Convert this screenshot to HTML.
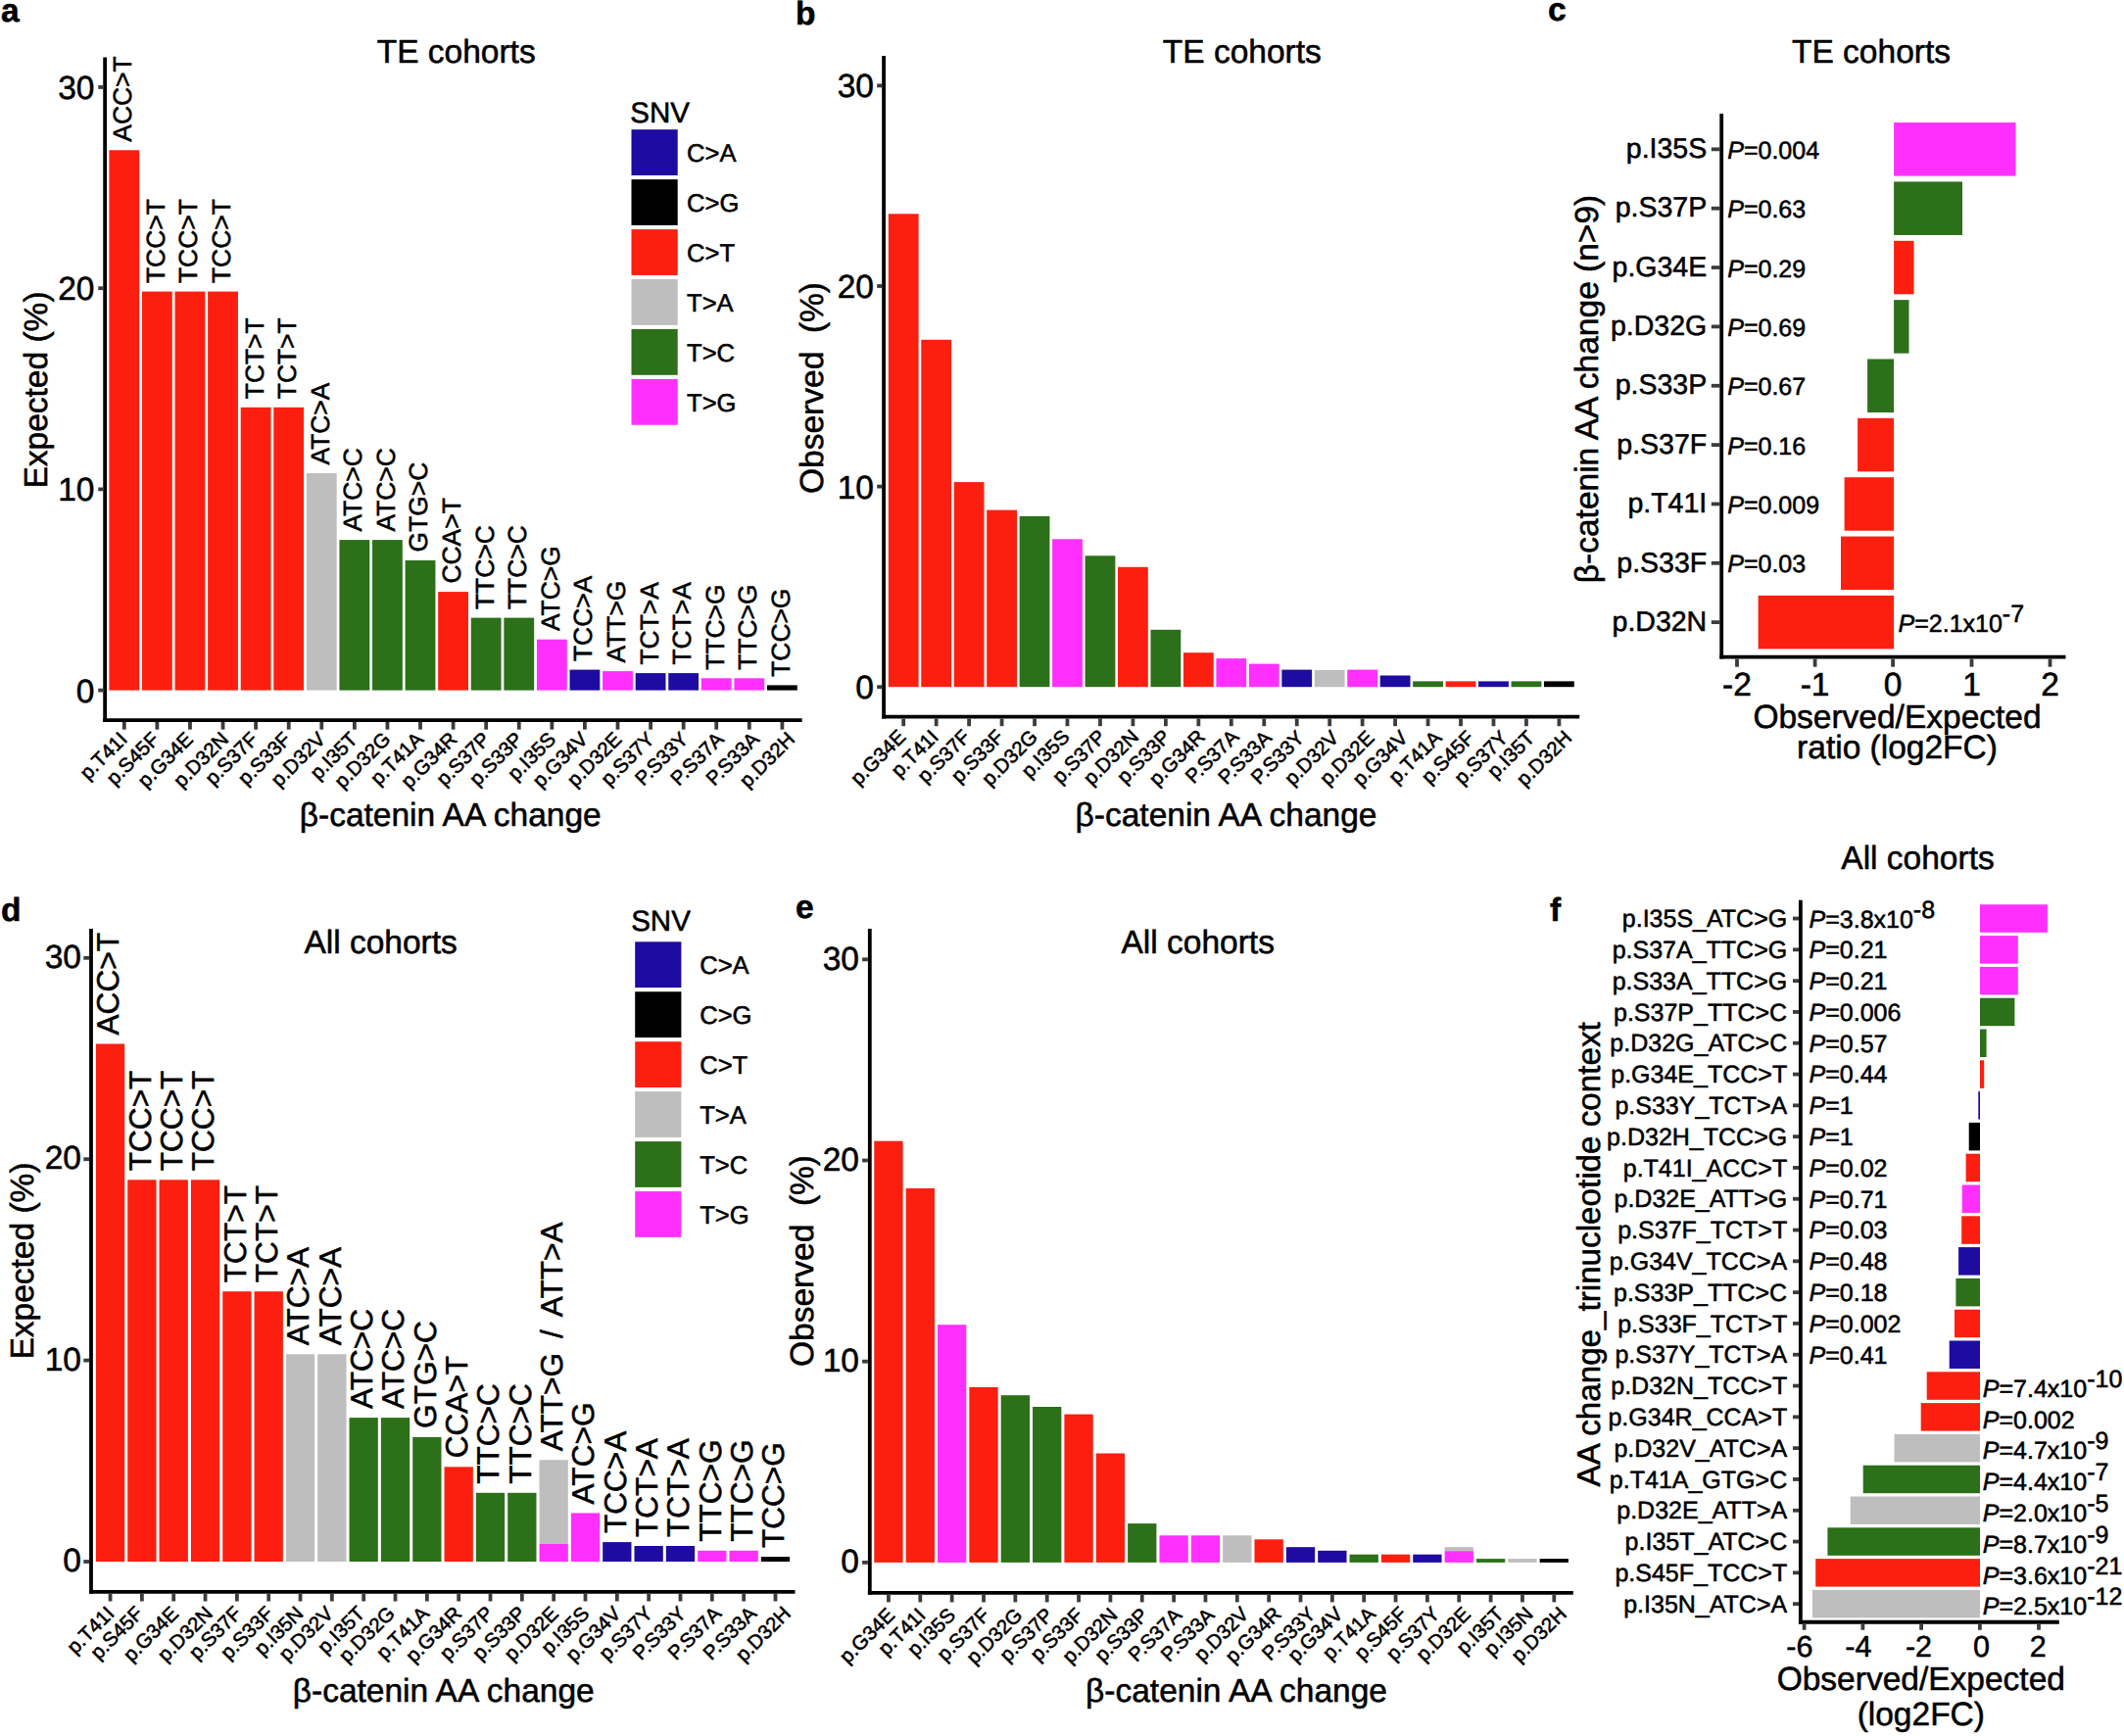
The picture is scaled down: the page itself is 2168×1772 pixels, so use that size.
<!DOCTYPE html>
<html lang="en">
<head>
<meta charset="utf-8">
<title>CTNNB1 mutation spectrum: expected vs observed</title>
<style>
html,body{margin:0;padding:0;background:#fff;}
body{width:2168px;height:1772px;overflow:hidden;}
svg{display:block;}
svg text{font-family:"Liberation Sans",Arial,Helvetica,sans-serif;fill:#000;stroke:#000;stroke-width:0.55px;stroke-linejoin:round;}
</style>
</head>
<body>
<svg width="2168" height="1772" viewBox="0 0 2168 1772" text-rendering="geometricPrecision">
<rect x="0" y="0" width="2168" height="1772" fill="#ffffff"/>
<rect x="111.4" y="153.3" width="30.8" height="551.3" fill="#FC1F10"/>
<rect x="144.98" y="297.6" width="30.8" height="407" fill="#FC1F10"/>
<rect x="178.56" y="297.6" width="30.8" height="407" fill="#FC1F10"/>
<rect x="212.14" y="297.6" width="30.8" height="407" fill="#FC1F10"/>
<rect x="245.72" y="415.8" width="30.8" height="288.8" fill="#FC1F10"/>
<rect x="279.3" y="415.8" width="30.8" height="288.8" fill="#FC1F10"/>
<rect x="312.88" y="483.05" width="30.8" height="221.55" fill="#BEBEBE"/>
<rect x="346.46" y="551.1" width="30.8" height="153.5" fill="#2C7019"/>
<rect x="380.04" y="551.1" width="30.8" height="153.5" fill="#2C7019"/>
<rect x="413.62" y="572" width="30.8" height="132.6" fill="#2C7019"/>
<rect x="447.2" y="604.1" width="30.8" height="100.5" fill="#FC1F10"/>
<rect x="480.78" y="630.6" width="30.8" height="74" fill="#2C7019"/>
<rect x="514.36" y="630.6" width="30.8" height="74" fill="#2C7019"/>
<rect x="547.94" y="652.7" width="30.8" height="51.9" fill="#FF30FF"/>
<rect x="581.52" y="683.6" width="30.8" height="21" fill="#1E0BA2"/>
<rect x="615.1" y="685.1" width="30.8" height="19.5" fill="#FF30FF"/>
<rect x="648.68" y="687.1" width="30.8" height="17.5" fill="#1E0BA2"/>
<rect x="682.26" y="687.1" width="30.8" height="17.5" fill="#1E0BA2"/>
<rect x="715.84" y="692.3" width="30.8" height="12.3" fill="#FF30FF"/>
<rect x="749.42" y="692.3" width="30.8" height="12.3" fill="#FF30FF"/>
<rect x="783" y="699.4" width="30.8" height="5.2" fill="#000000"/>
<line x1="107.14" y1="58.6" x2="107.14" y2="736.95" stroke="#000000" stroke-width="3.8"/>
<line x1="105.24" y1="735.05" x2="818.7" y2="735.05" stroke="#000000" stroke-width="3.8"/>
<line x1="100.24" y1="704.6" x2="105.24" y2="704.6" stroke="#3c3c3c" stroke-width="3.8"/>
<text x="96.5" y="716.59" text-anchor="end" font-size="33.5">0</text>
<line x1="100.24" y1="499.4" x2="105.24" y2="499.4" stroke="#3c3c3c" stroke-width="3.8"/>
<text x="96.5" y="511.39" text-anchor="end" font-size="33.5">10</text>
<line x1="100.24" y1="294.2" x2="105.24" y2="294.2" stroke="#3c3c3c" stroke-width="3.8"/>
<text x="96.5" y="306.19" text-anchor="end" font-size="33.5">20</text>
<line x1="100.24" y1="89" x2="105.24" y2="89" stroke="#3c3c3c" stroke-width="3.8"/>
<text x="96.5" y="100.99" text-anchor="end" font-size="33.5">30</text>
<line x1="126.8" y1="736.95" x2="126.8" y2="744.65" stroke="#3c3c3c" stroke-width="3.8"/>
<text text-anchor="end" transform="translate(131.1 755.8) rotate(-45)" font-size="20.5">p.T41I</text>
<line x1="160.38" y1="736.95" x2="160.38" y2="744.65" stroke="#3c3c3c" stroke-width="3.8"/>
<text text-anchor="end" transform="translate(163.78 755.8) rotate(-45)" font-size="20.5">p.S45F</text>
<line x1="193.96" y1="736.95" x2="193.96" y2="744.65" stroke="#3c3c3c" stroke-width="3.8"/>
<text text-anchor="end" transform="translate(198.26 755.8) rotate(-45)" font-size="20.5">p.G34E</text>
<line x1="227.54" y1="736.95" x2="227.54" y2="744.65" stroke="#3c3c3c" stroke-width="3.8"/>
<text text-anchor="end" transform="translate(234.54 755.8) rotate(-45)" font-size="20.5">p.D32N</text>
<line x1="261.12" y1="736.95" x2="261.12" y2="744.65" stroke="#3c3c3c" stroke-width="3.8"/>
<text text-anchor="end" transform="translate(264.52 755.8) rotate(-45)" font-size="20.5">p.S37F</text>
<line x1="294.7" y1="736.95" x2="294.7" y2="744.65" stroke="#3c3c3c" stroke-width="3.8"/>
<text text-anchor="end" transform="translate(298.1 755.8) rotate(-45)" font-size="20.5">p.S33F</text>
<line x1="328.28" y1="736.95" x2="328.28" y2="744.65" stroke="#3c3c3c" stroke-width="3.8"/>
<text text-anchor="end" transform="translate(333.48 755.8) rotate(-45)" font-size="20.5">p.D32V</text>
<line x1="361.86" y1="736.95" x2="361.86" y2="744.65" stroke="#3c3c3c" stroke-width="3.8"/>
<text text-anchor="end" transform="translate(366.16 755.8) rotate(-45)" font-size="20.5">p.I35T</text>
<line x1="395.44" y1="736.95" x2="395.44" y2="744.65" stroke="#3c3c3c" stroke-width="3.8"/>
<text text-anchor="end" transform="translate(399.74 755.8) rotate(-45)" font-size="20.5">p.D32G</text>
<line x1="429.02" y1="736.95" x2="429.02" y2="744.65" stroke="#3c3c3c" stroke-width="3.8"/>
<text text-anchor="end" transform="translate(433.32 755.8) rotate(-45)" font-size="20.5">p.T41A</text>
<line x1="462.6" y1="736.95" x2="462.6" y2="744.65" stroke="#3c3c3c" stroke-width="3.8"/>
<text text-anchor="end" transform="translate(467.8 755.8) rotate(-45)" font-size="20.5">p.G34R</text>
<line x1="496.18" y1="736.95" x2="496.18" y2="744.65" stroke="#3c3c3c" stroke-width="3.8"/>
<text text-anchor="end" transform="translate(501.38 755.8) rotate(-45)" font-size="20.5">p.S37P</text>
<line x1="529.76" y1="736.95" x2="529.76" y2="744.65" stroke="#3c3c3c" stroke-width="3.8"/>
<text text-anchor="end" transform="translate(534.96 755.8) rotate(-45)" font-size="20.5">p.S33P</text>
<line x1="563.34" y1="736.95" x2="563.34" y2="744.65" stroke="#3c3c3c" stroke-width="3.8"/>
<text text-anchor="end" transform="translate(568.54 755.8) rotate(-45)" font-size="20.5">p.I35S</text>
<line x1="596.92" y1="736.95" x2="596.92" y2="744.65" stroke="#3c3c3c" stroke-width="3.8"/>
<text text-anchor="end" transform="translate(601.22 755.8) rotate(-45)" font-size="20.5">p.G34V</text>
<line x1="630.5" y1="736.95" x2="630.5" y2="744.65" stroke="#3c3c3c" stroke-width="3.8"/>
<text text-anchor="end" transform="translate(635.7 755.8) rotate(-45)" font-size="20.5">p.D32E</text>
<line x1="664.08" y1="736.95" x2="664.08" y2="744.65" stroke="#3c3c3c" stroke-width="3.8"/>
<text text-anchor="end" transform="translate(669.28 755.8) rotate(-45)" font-size="20.5">p.S37Y</text>
<line x1="697.66" y1="736.95" x2="697.66" y2="744.65" stroke="#3c3c3c" stroke-width="3.8"/>
<text text-anchor="end" transform="translate(703.76 755.8) rotate(-45)" font-size="20.5">P.S33Y</text>
<line x1="731.24" y1="736.95" x2="731.24" y2="744.65" stroke="#3c3c3c" stroke-width="3.8"/>
<text text-anchor="end" transform="translate(740.04 755.8) rotate(-45)" font-size="20.5">P.S37A</text>
<line x1="764.82" y1="736.95" x2="764.82" y2="744.65" stroke="#3c3c3c" stroke-width="3.8"/>
<text text-anchor="end" transform="translate(776.22 755.8) rotate(-45)" font-size="20.5">P.S33A</text>
<line x1="798.4" y1="736.95" x2="798.4" y2="744.65" stroke="#3c3c3c" stroke-width="3.8"/>
<text text-anchor="end" transform="translate(812.5 755.8) rotate(-45)" font-size="20.5">p.D32H</text>
<text transform="translate(134.25 144.7) rotate(-90)" font-size="26.4">ACC&gt;T</text>
<text transform="translate(167.83 289) rotate(-90)" font-size="26.4">TCC&gt;T</text>
<text transform="translate(201.41 289) rotate(-90)" font-size="26.4">TCC&gt;T</text>
<text transform="translate(234.99 289) rotate(-90)" font-size="26.4">TCC&gt;T</text>
<text transform="translate(268.57 407.2) rotate(-90)" font-size="26.4">TCT&gt;T</text>
<text transform="translate(302.15 407.2) rotate(-90)" font-size="26.4">TCT&gt;T</text>
<text transform="translate(335.73 474.45) rotate(-90)" font-size="26.4">ATC&gt;A</text>
<text transform="translate(369.31 542.5) rotate(-90)" font-size="26.4">ATC&gt;C</text>
<text transform="translate(402.89 542.5) rotate(-90)" font-size="26.4">ATC&gt;C</text>
<text transform="translate(436.47 563.4) rotate(-90)" font-size="26.4">GTG&gt;C</text>
<text transform="translate(470.05 595.5) rotate(-90)" font-size="26.4">CCA&gt;T</text>
<text transform="translate(503.63 622) rotate(-90)" font-size="26.4">TTC&gt;C</text>
<text transform="translate(537.21 622) rotate(-90)" font-size="26.4">TTC&gt;C</text>
<text transform="translate(570.79 644.1) rotate(-90)" font-size="26.4">ATC&gt;G</text>
<text transform="translate(604.37 675) rotate(-90)" font-size="26.4">TCC&gt;A</text>
<text transform="translate(637.95 676.5) rotate(-90)" font-size="26.4">ATT&gt;G</text>
<text transform="translate(671.53 678.5) rotate(-90)" font-size="26.4">TCT&gt;A</text>
<text transform="translate(705.11 678.5) rotate(-90)" font-size="26.4">TCT&gt;A</text>
<text transform="translate(738.69 683.7) rotate(-90)" font-size="26.4">TTC&gt;G</text>
<text transform="translate(772.27 683.7) rotate(-90)" font-size="26.4">TTC&gt;G</text>
<text transform="translate(805.85 690.8) rotate(-90)" font-size="26.4">TCC&gt;G</text>
<text x="465.7" y="64.1" text-anchor="middle" font-size="33.5">TE cohorts</text>
<text x="459.7" y="842.6" text-anchor="middle" font-size="33.5">β-catenin AA change</text>
<text text-anchor="middle" transform="translate(47.5 398) rotate(-90)" font-size="33.5" style="white-space:pre">Expected (%)</text>
<text x="1" y="22.1" font-weight="bold" font-size="33.5">a</text>
<text x="643.3" y="124.6" font-size="29.5">SNV</text>
<rect x="644.5" y="132.2" width="47.2" height="46.8" fill="#1E0BA2"/>
<text x="701" y="164.8" font-size="25.6">C&gt;A</text>
<rect x="644.5" y="183.15" width="47.2" height="46.8" fill="#000000"/>
<text x="701" y="215.75" font-size="25.6">C&gt;G</text>
<rect x="644.5" y="234.1" width="47.2" height="46.8" fill="#FC1F10"/>
<text x="701" y="266.7" font-size="25.6">C&gt;T</text>
<rect x="644.5" y="285.05" width="47.2" height="46.8" fill="#BEBEBE"/>
<text x="701" y="317.65" font-size="25.6">T&gt;A</text>
<rect x="644.5" y="336" width="47.2" height="46.8" fill="#2C7019"/>
<text x="701" y="368.6" font-size="25.6">T&gt;C</text>
<rect x="644.5" y="386.95" width="47.2" height="46.8" fill="#FF30FF"/>
<text x="701" y="419.55" font-size="25.6">T&gt;G</text>
<rect x="906.8" y="218.3" width="30.8" height="482.9" fill="#FC1F10"/>
<rect x="940.26" y="346.8" width="30.8" height="354.4" fill="#FC1F10"/>
<rect x="973.72" y="492.1" width="30.8" height="209.1" fill="#FC1F10"/>
<rect x="1007.18" y="520.6" width="30.8" height="180.6" fill="#FC1F10"/>
<rect x="1040.64" y="526.9" width="30.8" height="174.3" fill="#2C7019"/>
<rect x="1074.1" y="550.3" width="30.8" height="150.9" fill="#FF30FF"/>
<rect x="1107.56" y="567.3" width="30.8" height="133.9" fill="#2C7019"/>
<rect x="1141.02" y="578.8" width="30.8" height="122.4" fill="#FC1F10"/>
<rect x="1174.48" y="642.8" width="30.8" height="58.4" fill="#2C7019"/>
<rect x="1207.94" y="666.2" width="30.8" height="35" fill="#FC1F10"/>
<rect x="1241.4" y="672.1" width="30.8" height="29.1" fill="#FF30FF"/>
<rect x="1274.86" y="677.6" width="30.8" height="23.6" fill="#FF30FF"/>
<rect x="1308.32" y="683.6" width="30.8" height="17.6" fill="#1E0BA2"/>
<rect x="1341.78" y="684" width="30.8" height="17.2" fill="#BEBEBE"/>
<rect x="1375.24" y="683.6" width="30.8" height="17.6" fill="#FF30FF"/>
<rect x="1408.7" y="689.5" width="30.8" height="11.7" fill="#1E0BA2"/>
<rect x="1442.16" y="695.4" width="30.8" height="5.8" fill="#2C7019"/>
<rect x="1475.62" y="695.4" width="30.8" height="5.8" fill="#FC1F10"/>
<rect x="1509.08" y="695.4" width="30.8" height="5.8" fill="#1E0BA2"/>
<rect x="1542.54" y="695.4" width="30.8" height="5.8" fill="#2C7019"/>
<rect x="1576" y="695.4" width="30.8" height="5.8" fill="#000000"/>
<line x1="902.07" y1="57" x2="902.07" y2="733.5" stroke="#000000" stroke-width="3.8"/>
<line x1="900.17" y1="731.6" x2="1612.2" y2="731.6" stroke="#000000" stroke-width="3.8"/>
<line x1="895.17" y1="701.2" x2="900.17" y2="701.2" stroke="#3c3c3c" stroke-width="3.8"/>
<text x="892" y="713.19" text-anchor="end" font-size="33.5">0</text>
<line x1="895.17" y1="496.6" x2="900.17" y2="496.6" stroke="#3c3c3c" stroke-width="3.8"/>
<text x="892" y="508.59" text-anchor="end" font-size="33.5">10</text>
<line x1="895.17" y1="292" x2="900.17" y2="292" stroke="#3c3c3c" stroke-width="3.8"/>
<text x="892" y="303.99" text-anchor="end" font-size="33.5">20</text>
<line x1="895.17" y1="87.4" x2="900.17" y2="87.4" stroke="#3c3c3c" stroke-width="3.8"/>
<text x="892" y="99.39" text-anchor="end" font-size="33.5">30</text>
<line x1="922.2" y1="733.5" x2="922.2" y2="741.2" stroke="#3c3c3c" stroke-width="3.8"/>
<text text-anchor="end" transform="translate(925.6 753.4) rotate(-45)" font-size="20.5">p.G34E</text>
<line x1="955.66" y1="733.5" x2="955.66" y2="741.2" stroke="#3c3c3c" stroke-width="3.8"/>
<text text-anchor="end" transform="translate(959.06 753.4) rotate(-45)" font-size="20.5">p.T41I</text>
<line x1="989.12" y1="733.5" x2="989.12" y2="741.2" stroke="#3c3c3c" stroke-width="3.8"/>
<text text-anchor="end" transform="translate(991.62 753.4) rotate(-45)" font-size="20.5">p.S37F</text>
<line x1="1022.58" y1="733.5" x2="1022.58" y2="741.2" stroke="#3c3c3c" stroke-width="3.8"/>
<text text-anchor="end" transform="translate(1025.98 753.4) rotate(-45)" font-size="20.5">p.S33F</text>
<line x1="1056.04" y1="733.5" x2="1056.04" y2="741.2" stroke="#3c3c3c" stroke-width="3.8"/>
<text text-anchor="end" transform="translate(1060.34 753.4) rotate(-45)" font-size="20.5">p.D32G</text>
<line x1="1089.5" y1="733.5" x2="1089.5" y2="741.2" stroke="#3c3c3c" stroke-width="3.8"/>
<text text-anchor="end" transform="translate(1092.9 753.4) rotate(-45)" font-size="20.5">p.I35S</text>
<line x1="1122.96" y1="733.5" x2="1122.96" y2="741.2" stroke="#3c3c3c" stroke-width="3.8"/>
<text text-anchor="end" transform="translate(1129.96 753.4) rotate(-45)" font-size="20.5">p.S37P</text>
<line x1="1156.42" y1="733.5" x2="1156.42" y2="741.2" stroke="#3c3c3c" stroke-width="3.8"/>
<text text-anchor="end" transform="translate(1163.42 753.4) rotate(-45)" font-size="20.5">p.D32N</text>
<line x1="1189.88" y1="733.5" x2="1189.88" y2="741.2" stroke="#3c3c3c" stroke-width="3.8"/>
<text text-anchor="end" transform="translate(1195.98 753.4) rotate(-45)" font-size="20.5">p.S33P</text>
<line x1="1223.34" y1="733.5" x2="1223.34" y2="741.2" stroke="#3c3c3c" stroke-width="3.8"/>
<text text-anchor="end" transform="translate(1231.24 753.4) rotate(-45)" font-size="20.5">p.G34R</text>
<line x1="1256.8" y1="733.5" x2="1256.8" y2="741.2" stroke="#3c3c3c" stroke-width="3.8"/>
<text text-anchor="end" transform="translate(1265.6 753.4) rotate(-45)" font-size="20.5">P.S37A</text>
<line x1="1290.26" y1="733.5" x2="1290.26" y2="741.2" stroke="#3c3c3c" stroke-width="3.8"/>
<text text-anchor="end" transform="translate(1299.06 754.4) rotate(-45)" font-size="20.5">P.S33A</text>
<line x1="1323.72" y1="733.5" x2="1323.72" y2="741.2" stroke="#3c3c3c" stroke-width="3.8"/>
<text text-anchor="end" transform="translate(1332.52 754.4) rotate(-45)" font-size="20.5">P.S33Y</text>
<line x1="1357.18" y1="733.5" x2="1357.18" y2="741.2" stroke="#3c3c3c" stroke-width="3.8"/>
<text text-anchor="end" transform="translate(1367.78 754.4) rotate(-45)" font-size="20.5">p.D32V</text>
<line x1="1390.64" y1="733.5" x2="1390.64" y2="741.2" stroke="#3c3c3c" stroke-width="3.8"/>
<text text-anchor="end" transform="translate(1403.84 754.4) rotate(-45)" font-size="20.5">p.D32E</text>
<line x1="1424.1" y1="733.5" x2="1424.1" y2="741.2" stroke="#3c3c3c" stroke-width="3.8"/>
<text text-anchor="end" transform="translate(1438.2 754.4) rotate(-45)" font-size="20.5">p.G34V</text>
<line x1="1457.56" y1="733.5" x2="1457.56" y2="741.2" stroke="#3c3c3c" stroke-width="3.8"/>
<text text-anchor="end" transform="translate(1472.56 754.4) rotate(-45)" font-size="20.5">p.T41A</text>
<line x1="1491.02" y1="733.5" x2="1491.02" y2="741.2" stroke="#3c3c3c" stroke-width="3.8"/>
<text text-anchor="end" transform="translate(1506.02 754.4) rotate(-45)" font-size="20.5">p.S45F</text>
<line x1="1524.48" y1="733.5" x2="1524.48" y2="741.2" stroke="#3c3c3c" stroke-width="3.8"/>
<text text-anchor="end" transform="translate(1540.38 754.4) rotate(-45)" font-size="20.5">p.S37Y</text>
<line x1="1557.94" y1="733.5" x2="1557.94" y2="741.2" stroke="#3c3c3c" stroke-width="3.8"/>
<text text-anchor="end" transform="translate(1567.64 754.4) rotate(-45)" font-size="20.5">p.I35T</text>
<line x1="1591.4" y1="733.5" x2="1591.4" y2="741.2" stroke="#3c3c3c" stroke-width="3.8"/>
<text text-anchor="end" transform="translate(1605.5 754.4) rotate(-45)" font-size="20.5">p.D32H</text>
<text x="1267.8" y="64.1" text-anchor="middle" font-size="33.5">TE cohorts</text>
<text x="1251.5" y="842.6" text-anchor="middle" font-size="33.5">β-catenin AA change</text>
<text text-anchor="middle" transform="translate(840 396) rotate(-90)" font-size="33.5" style="white-space:pre">Observed  (%)</text>
<text x="812" y="24.5" font-weight="bold" font-size="33.5">b</text>
<rect x="97.9" y="1065.5" width="29.3" height="528.5" fill="#FC1F10"/>
<rect x="130.23" y="1204.3" width="29.3" height="389.7" fill="#FC1F10"/>
<rect x="162.56" y="1204.3" width="29.3" height="389.7" fill="#FC1F10"/>
<rect x="194.89" y="1204.3" width="29.3" height="389.7" fill="#FC1F10"/>
<rect x="227.22" y="1318.2" width="29.3" height="275.8" fill="#FC1F10"/>
<rect x="259.55" y="1318.2" width="29.3" height="275.8" fill="#FC1F10"/>
<rect x="291.88" y="1382.3" width="29.3" height="211.7" fill="#BEBEBE"/>
<rect x="324.21" y="1382.3" width="29.3" height="211.7" fill="#BEBEBE"/>
<rect x="356.54" y="1447.1" width="29.3" height="146.9" fill="#2C7019"/>
<rect x="388.87" y="1447.1" width="29.3" height="146.9" fill="#2C7019"/>
<rect x="421.2" y="1466.9" width="29.3" height="127.1" fill="#2C7019"/>
<rect x="453.53" y="1497.3" width="29.3" height="96.7" fill="#FC1F10"/>
<rect x="485.86" y="1523.8" width="29.3" height="70.2" fill="#2C7019"/>
<rect x="518.19" y="1523.8" width="29.3" height="70.2" fill="#2C7019"/>
<rect x="550.52" y="1490.2" width="29.3" height="85.8" fill="#BEBEBE"/>
<rect x="550.52" y="1576" width="29.3" height="18" fill="#FF30FF"/>
<rect x="582.85" y="1544.4" width="29.3" height="49.6" fill="#FF30FF"/>
<rect x="615.18" y="1574.1" width="29.3" height="19.9" fill="#1E0BA2"/>
<rect x="647.51" y="1578" width="29.3" height="16" fill="#1E0BA2"/>
<rect x="679.84" y="1578" width="29.3" height="16" fill="#1E0BA2"/>
<rect x="712.17" y="1582.8" width="29.3" height="11.2" fill="#FF30FF"/>
<rect x="744.5" y="1582.8" width="29.3" height="11.2" fill="#FF30FF"/>
<rect x="776.83" y="1589.1" width="29.3" height="4.9" fill="#000000"/>
<line x1="93" y1="948" x2="93" y2="1626.8" stroke="#000000" stroke-width="3.8"/>
<line x1="91.1" y1="1624.9" x2="811.5" y2="1624.9" stroke="#000000" stroke-width="3.8"/>
<line x1="85.3" y1="1594" x2="91.1" y2="1594" stroke="#3c3c3c" stroke-width="3.8"/>
<text x="83" y="1604.09" text-anchor="end" font-size="33.5">0</text>
<line x1="85.3" y1="1388.6" x2="91.1" y2="1388.6" stroke="#3c3c3c" stroke-width="3.8"/>
<text x="83" y="1398.69" text-anchor="end" font-size="33.5">10</text>
<line x1="85.3" y1="1183.2" x2="91.1" y2="1183.2" stroke="#3c3c3c" stroke-width="3.8"/>
<text x="83" y="1193.29" text-anchor="end" font-size="33.5">20</text>
<line x1="85.3" y1="977.8" x2="91.1" y2="977.8" stroke="#3c3c3c" stroke-width="3.8"/>
<text x="83" y="987.89" text-anchor="end" font-size="33.5">30</text>
<line x1="112.55" y1="1626.8" x2="112.55" y2="1634.5" stroke="#3c3c3c" stroke-width="3.8"/>
<text text-anchor="end" transform="translate(117.75 1648.2) rotate(-45)" font-size="20.5">p.T41I</text>
<line x1="144.88" y1="1626.8" x2="144.88" y2="1634.5" stroke="#3c3c3c" stroke-width="3.8"/>
<text text-anchor="end" transform="translate(147.38 1648.2) rotate(-45)" font-size="20.5">p.S45F</text>
<line x1="177.21" y1="1626.8" x2="177.21" y2="1634.5" stroke="#3c3c3c" stroke-width="3.8"/>
<text text-anchor="end" transform="translate(183.31 1648.2) rotate(-45)" font-size="20.5">p.G34E</text>
<line x1="209.54" y1="1626.8" x2="209.54" y2="1634.5" stroke="#3c3c3c" stroke-width="3.8"/>
<text text-anchor="end" transform="translate(218.34 1648.2) rotate(-45)" font-size="20.5">p.D32N</text>
<line x1="241.87" y1="1626.8" x2="241.87" y2="1634.5" stroke="#3c3c3c" stroke-width="3.8"/>
<text text-anchor="end" transform="translate(247.97 1648.2) rotate(-45)" font-size="20.5">p.S37F</text>
<line x1="274.2" y1="1626.8" x2="274.2" y2="1634.5" stroke="#3c3c3c" stroke-width="3.8"/>
<text text-anchor="end" transform="translate(280.3 1648.2) rotate(-45)" font-size="20.5">p.S33F</text>
<line x1="306.53" y1="1626.8" x2="306.53" y2="1634.5" stroke="#3c3c3c" stroke-width="3.8"/>
<text text-anchor="end" transform="translate(310.83 1648.2) rotate(-45)" font-size="20.5">p.I35N</text>
<line x1="338.86" y1="1626.8" x2="338.86" y2="1634.5" stroke="#3c3c3c" stroke-width="3.8"/>
<text text-anchor="end" transform="translate(341.36 1648.2) rotate(-45)" font-size="20.5">p.D32V</text>
<line x1="371.19" y1="1626.8" x2="371.19" y2="1634.5" stroke="#3c3c3c" stroke-width="3.8"/>
<text text-anchor="end" transform="translate(373.69 1648.2) rotate(-45)" font-size="20.5">p.I35T</text>
<line x1="403.52" y1="1626.8" x2="403.52" y2="1634.5" stroke="#3c3c3c" stroke-width="3.8"/>
<text text-anchor="end" transform="translate(404.22 1648.2) rotate(-45)" font-size="20.5">p.D32G</text>
<line x1="435.85" y1="1626.8" x2="435.85" y2="1634.5" stroke="#3c3c3c" stroke-width="3.8"/>
<text text-anchor="end" transform="translate(439.25 1648.2) rotate(-45)" font-size="20.5">p.T41A</text>
<line x1="468.18" y1="1626.8" x2="468.18" y2="1634.5" stroke="#3c3c3c" stroke-width="3.8"/>
<text text-anchor="end" transform="translate(472.48 1648.2) rotate(-45)" font-size="20.5">p.G34R</text>
<line x1="500.51" y1="1626.8" x2="500.51" y2="1634.5" stroke="#3c3c3c" stroke-width="3.8"/>
<text text-anchor="end" transform="translate(504.81 1648.2) rotate(-45)" font-size="20.5">p.S37P</text>
<line x1="532.84" y1="1626.8" x2="532.84" y2="1634.5" stroke="#3c3c3c" stroke-width="3.8"/>
<text text-anchor="end" transform="translate(538.04 1648.2) rotate(-45)" font-size="20.5">p.S33P</text>
<line x1="565.17" y1="1626.8" x2="565.17" y2="1634.5" stroke="#3c3c3c" stroke-width="3.8"/>
<text text-anchor="end" transform="translate(571.27 1648.2) rotate(-45)" font-size="20.5">p.D32E</text>
<line x1="597.5" y1="1626.8" x2="597.5" y2="1634.5" stroke="#3c3c3c" stroke-width="3.8"/>
<text text-anchor="end" transform="translate(602.7 1648.2) rotate(-45)" font-size="20.5">p.I35S</text>
<line x1="629.83" y1="1626.8" x2="629.83" y2="1634.5" stroke="#3c3c3c" stroke-width="3.8"/>
<text text-anchor="end" transform="translate(635.03 1648.2) rotate(-45)" font-size="20.5">p.G34V</text>
<line x1="662.16" y1="1626.8" x2="662.16" y2="1634.5" stroke="#3c3c3c" stroke-width="3.8"/>
<text text-anchor="end" transform="translate(667.36 1648.2) rotate(-45)" font-size="20.5">p.S37Y</text>
<line x1="694.49" y1="1626.8" x2="694.49" y2="1634.5" stroke="#3c3c3c" stroke-width="3.8"/>
<text text-anchor="end" transform="translate(701.49 1648.2) rotate(-45)" font-size="20.5">P.S33Y</text>
<line x1="726.82" y1="1626.8" x2="726.82" y2="1634.5" stroke="#3c3c3c" stroke-width="3.8"/>
<text text-anchor="end" transform="translate(737.42 1648.2) rotate(-45)" font-size="20.5">P.S37A</text>
<line x1="759.15" y1="1626.8" x2="759.15" y2="1634.5" stroke="#3c3c3c" stroke-width="3.8"/>
<text text-anchor="end" transform="translate(773.35 1648.2) rotate(-45)" font-size="20.5">P.S33A</text>
<line x1="791.48" y1="1626.8" x2="791.48" y2="1634.5" stroke="#3c3c3c" stroke-width="3.8"/>
<text text-anchor="end" transform="translate(808.28 1648.2) rotate(-45)" font-size="20.5">p.D32H</text>
<text transform="translate(121.46 1056.5) rotate(-90)" font-size="31.6">ACC&gt;T</text>
<text transform="translate(153.79 1195.3) rotate(-90)" font-size="31.6">TCC&gt;T</text>
<text transform="translate(186.12 1195.3) rotate(-90)" font-size="31.6">TCC&gt;T</text>
<text transform="translate(218.45 1195.3) rotate(-90)" font-size="31.6">TCC&gt;T</text>
<text transform="translate(250.78 1309.2) rotate(-90)" font-size="31.6">TCT&gt;T</text>
<text transform="translate(283.11 1309.2) rotate(-90)" font-size="31.6">TCT&gt;T</text>
<text transform="translate(315.44 1373.3) rotate(-90)" font-size="31.6">ATC&gt;A</text>
<text transform="translate(347.77 1373.3) rotate(-90)" font-size="31.6">ATC&gt;A</text>
<text transform="translate(380.1 1438.1) rotate(-90)" font-size="31.6">ATC&gt;C</text>
<text transform="translate(412.43 1438.1) rotate(-90)" font-size="31.6">ATC&gt;C</text>
<text transform="translate(444.76 1457.9) rotate(-90)" font-size="31.6">GTG&gt;C</text>
<text transform="translate(477.09 1488.3) rotate(-90)" font-size="31.6">CCA&gt;T</text>
<text transform="translate(509.42 1514.8) rotate(-90)" font-size="31.6">TTC&gt;C</text>
<text transform="translate(541.75 1514.8) rotate(-90)" font-size="31.6">TTC&gt;C</text>
<text transform="translate(574.08 1481.2) rotate(-90)" font-size="31.6" word-spacing="6">ATT&gt;G / ATT&gt;A</text>
<text transform="translate(606.41 1535.4) rotate(-90)" font-size="31.6">ATC&gt;G</text>
<text transform="translate(638.74 1565.1) rotate(-90)" font-size="31.6">TCC&gt;A</text>
<text transform="translate(671.07 1569) rotate(-90)" font-size="31.6">TCT&gt;A</text>
<text transform="translate(703.4 1569) rotate(-90)" font-size="31.6">TCT&gt;A</text>
<text transform="translate(735.73 1573.8) rotate(-90)" font-size="31.6">TTC&gt;G</text>
<text transform="translate(768.06 1573.8) rotate(-90)" font-size="31.6">TTC&gt;G</text>
<text transform="translate(800.39 1580.1) rotate(-90)" font-size="31.6">TCC&gt;G</text>
<text x="388.6" y="972.9" text-anchor="middle" font-size="33.5">All cohorts</text>
<text x="452.7" y="1736.6" text-anchor="middle" font-size="33.5">β-catenin AA change</text>
<text text-anchor="middle" transform="translate(33.5 1287) rotate(-90)" font-size="33.5" style="white-space:pre">Expected (%)</text>
<text x="1" y="940.1" font-weight="bold" font-size="33.5">d</text>
<text x="644.2" y="950.4" font-size="29.5">SNV</text>
<rect x="648.2" y="961.3" width="47.2" height="46.8" fill="#1E0BA2"/>
<text x="714.2" y="993.9" font-size="25.6">C&gt;A</text>
<rect x="648.2" y="1012.25" width="47.2" height="46.8" fill="#000000"/>
<text x="714.2" y="1044.85" font-size="25.6">C&gt;G</text>
<rect x="648.2" y="1063.2" width="47.2" height="46.8" fill="#FC1F10"/>
<text x="714.2" y="1095.8" font-size="25.6">C&gt;T</text>
<rect x="648.2" y="1114.15" width="47.2" height="46.8" fill="#BEBEBE"/>
<text x="714.2" y="1146.75" font-size="25.6">T&gt;A</text>
<rect x="648.2" y="1165.1" width="47.2" height="46.8" fill="#2C7019"/>
<text x="714.2" y="1197.7" font-size="25.6">T&gt;C</text>
<rect x="648.2" y="1216.05" width="47.2" height="46.8" fill="#FF30FF"/>
<text x="714.2" y="1248.65" font-size="25.6">T&gt;G</text>
<rect x="892.3" y="1164.7" width="29.3" height="430.2" fill="#FC1F10"/>
<rect x="924.65" y="1213" width="29.3" height="381.9" fill="#FC1F10"/>
<rect x="957" y="1352.2" width="29.3" height="242.7" fill="#FF30FF"/>
<rect x="989.35" y="1415.9" width="29.3" height="179" fill="#FC1F10"/>
<rect x="1021.7" y="1424.2" width="29.3" height="170.7" fill="#2C7019"/>
<rect x="1054.05" y="1436" width="29.3" height="158.9" fill="#2C7019"/>
<rect x="1086.4" y="1443.6" width="29.3" height="151.3" fill="#FC1F10"/>
<rect x="1118.75" y="1483.5" width="29.3" height="111.4" fill="#FC1F10"/>
<rect x="1151.1" y="1555.1" width="29.3" height="39.8" fill="#2C7019"/>
<rect x="1183.45" y="1567.3" width="29.3" height="27.6" fill="#FF30FF"/>
<rect x="1215.8" y="1567.3" width="29.3" height="27.6" fill="#FF30FF"/>
<rect x="1248.15" y="1567.3" width="29.3" height="27.6" fill="#BEBEBE"/>
<rect x="1280.5" y="1571.3" width="29.3" height="23.6" fill="#FC1F10"/>
<rect x="1312.85" y="1579.2" width="29.3" height="15.7" fill="#1E0BA2"/>
<rect x="1345.2" y="1582.8" width="29.3" height="12.1" fill="#1E0BA2"/>
<rect x="1377.55" y="1586.7" width="29.3" height="8.2" fill="#2C7019"/>
<rect x="1409.9" y="1586.7" width="29.3" height="8.2" fill="#FC1F10"/>
<rect x="1442.25" y="1586.7" width="29.3" height="8.2" fill="#1E0BA2"/>
<rect x="1474.6" y="1579.2" width="29.3" height="4" fill="#BEBEBE"/>
<rect x="1474.6" y="1583.2" width="29.3" height="11.7" fill="#FF30FF"/>
<rect x="1506.95" y="1591.1" width="29.3" height="3.8" fill="#2C7019"/>
<rect x="1539.3" y="1591.1" width="29.3" height="3.8" fill="#BEBEBE"/>
<rect x="1571.65" y="1591.1" width="29.3" height="3.8" fill="#000000"/>
<line x1="887.8" y1="948" x2="887.8" y2="1627.7" stroke="#000000" stroke-width="3.8"/>
<line x1="885.9" y1="1625.8" x2="1605.8" y2="1625.8" stroke="#000000" stroke-width="3.8"/>
<line x1="880.1" y1="1594.9" x2="885.9" y2="1594.9" stroke="#3c3c3c" stroke-width="3.8"/>
<text x="877" y="1605.29" text-anchor="end" font-size="33.5">0</text>
<line x1="880.1" y1="1389.7" x2="885.9" y2="1389.7" stroke="#3c3c3c" stroke-width="3.8"/>
<text x="877" y="1400.09" text-anchor="end" font-size="33.5">10</text>
<line x1="880.1" y1="1184.5" x2="885.9" y2="1184.5" stroke="#3c3c3c" stroke-width="3.8"/>
<text x="877" y="1194.89" text-anchor="end" font-size="33.5">20</text>
<line x1="880.1" y1="979.3" x2="885.9" y2="979.3" stroke="#3c3c3c" stroke-width="3.8"/>
<text x="877" y="989.69" text-anchor="end" font-size="33.5">30</text>
<line x1="906.95" y1="1627.7" x2="906.95" y2="1635.4" stroke="#3c3c3c" stroke-width="3.8"/>
<text text-anchor="end" transform="translate(914.45 1649.9) rotate(-45)" font-size="20.5">p.G34E</text>
<line x1="939.3" y1="1627.7" x2="939.3" y2="1635.4" stroke="#3c3c3c" stroke-width="3.8"/>
<text text-anchor="end" transform="translate(945.9 1649.9) rotate(-45)" font-size="20.5">p.T41I</text>
<line x1="971.65" y1="1627.7" x2="971.65" y2="1635.4" stroke="#3c3c3c" stroke-width="3.8"/>
<text text-anchor="end" transform="translate(976.45 1649.9) rotate(-45)" font-size="20.5">p.I35S</text>
<line x1="1004" y1="1627.7" x2="1004" y2="1635.4" stroke="#3c3c3c" stroke-width="3.8"/>
<text text-anchor="end" transform="translate(1011.5 1649.9) rotate(-45)" font-size="20.5">p.S37F</text>
<line x1="1036.35" y1="1627.7" x2="1036.35" y2="1635.4" stroke="#3c3c3c" stroke-width="3.8"/>
<text text-anchor="end" transform="translate(1044.75 1649.9) rotate(-45)" font-size="20.5">p.D32G</text>
<line x1="1068.7" y1="1627.7" x2="1068.7" y2="1635.4" stroke="#3c3c3c" stroke-width="3.8"/>
<text text-anchor="end" transform="translate(1076.2 1649.9) rotate(-45)" font-size="20.5">p.S37P</text>
<line x1="1101.05" y1="1627.7" x2="1101.05" y2="1635.4" stroke="#3c3c3c" stroke-width="3.8"/>
<text text-anchor="end" transform="translate(1106.75 1649.9) rotate(-45)" font-size="20.5">p.S33F</text>
<line x1="1133.4" y1="1627.7" x2="1133.4" y2="1635.4" stroke="#3c3c3c" stroke-width="3.8"/>
<text text-anchor="end" transform="translate(1141.8 1649.9) rotate(-45)" font-size="20.5">p.D32N</text>
<line x1="1165.75" y1="1627.7" x2="1165.75" y2="1635.4" stroke="#3c3c3c" stroke-width="3.8"/>
<text text-anchor="end" transform="translate(1173.25 1649.9) rotate(-45)" font-size="20.5">p.S33P</text>
<line x1="1198.1" y1="1627.7" x2="1198.1" y2="1635.4" stroke="#3c3c3c" stroke-width="3.8"/>
<text text-anchor="end" transform="translate(1207.4 1649.9) rotate(-45)" font-size="20.5">P.S37A</text>
<line x1="1230.45" y1="1627.7" x2="1230.45" y2="1635.4" stroke="#3c3c3c" stroke-width="3.8"/>
<text text-anchor="end" transform="translate(1240.65 1649.9) rotate(-45)" font-size="20.5">P.S33A</text>
<line x1="1262.8" y1="1627.7" x2="1262.8" y2="1635.4" stroke="#3c3c3c" stroke-width="3.8"/>
<text text-anchor="end" transform="translate(1275.7 1648.7) rotate(-45)" font-size="20.5">p.D32V</text>
<line x1="1295.15" y1="1627.7" x2="1295.15" y2="1635.4" stroke="#3c3c3c" stroke-width="3.8"/>
<text text-anchor="end" transform="translate(1308.95 1648.7) rotate(-45)" font-size="20.5">p.G34R</text>
<line x1="1327.5" y1="1627.7" x2="1327.5" y2="1635.4" stroke="#3c3c3c" stroke-width="3.8"/>
<text text-anchor="end" transform="translate(1343.9 1648.7) rotate(-45)" font-size="20.5">P.S33Y</text>
<line x1="1359.85" y1="1627.7" x2="1359.85" y2="1635.4" stroke="#3c3c3c" stroke-width="3.8"/>
<text text-anchor="end" transform="translate(1371.85 1648.7) rotate(-45)" font-size="20.5">p.G34V</text>
<line x1="1392.2" y1="1627.7" x2="1392.2" y2="1635.4" stroke="#3c3c3c" stroke-width="3.8"/>
<text text-anchor="end" transform="translate(1405.1 1648.7) rotate(-45)" font-size="20.5">p.T41A</text>
<line x1="1424.55" y1="1627.7" x2="1424.55" y2="1635.4" stroke="#3c3c3c" stroke-width="3.8"/>
<text text-anchor="end" transform="translate(1437.45 1648.7) rotate(-45)" font-size="20.5">p.S45F</text>
<line x1="1456.9" y1="1627.7" x2="1456.9" y2="1635.4" stroke="#3c3c3c" stroke-width="3.8"/>
<text text-anchor="end" transform="translate(1470.7 1648.7) rotate(-45)" font-size="20.5">p.S37Y</text>
<line x1="1489.25" y1="1627.7" x2="1489.25" y2="1635.4" stroke="#3c3c3c" stroke-width="3.8"/>
<text text-anchor="end" transform="translate(1502.15 1648.7) rotate(-45)" font-size="20.5">p.D32E</text>
<line x1="1521.6" y1="1627.7" x2="1521.6" y2="1635.4" stroke="#3c3c3c" stroke-width="3.8"/>
<text text-anchor="end" transform="translate(1536.2 1648.7) rotate(-45)" font-size="20.5">p.I35T</text>
<line x1="1553.95" y1="1627.7" x2="1553.95" y2="1635.4" stroke="#3c3c3c" stroke-width="3.8"/>
<text text-anchor="end" transform="translate(1565.95 1648.7) rotate(-45)" font-size="20.5">p.I35N</text>
<line x1="1586.3" y1="1627.7" x2="1586.3" y2="1635.4" stroke="#3c3c3c" stroke-width="3.8"/>
<text text-anchor="end" transform="translate(1600.1 1648.7) rotate(-45)" font-size="20.5">p.D32H</text>
<text x="1222.7" y="972.9" text-anchor="middle" font-size="33.5">All cohorts</text>
<text x="1262" y="1736.6" text-anchor="middle" font-size="33.5">β-catenin AA change</text>
<text text-anchor="middle" transform="translate(830 1287) rotate(-90)" font-size="33.5" style="white-space:pre">Observed  (%)</text>
<text x="812" y="936.6" font-weight="bold" font-size="33.5">e</text>
<rect x="1933.1" y="125.1" width="124.4" height="54.5" fill="#FF30FF"/>
<line x1="1746.8" y1="152.35" x2="1755.3" y2="152.35" stroke="#3c3c3c" stroke-width="3.8"/>
<text x="1742.2" y="161.05" text-anchor="end" font-size="28.5">p.I35S</text>
<text x="1763.2" y="161.95" font-size="25"><tspan font-style="italic">P</tspan>=0.004</text>
<rect x="1933.1" y="185.45" width="69.9" height="54.5" fill="#2C7019"/>
<line x1="1746.8" y1="212.7" x2="1755.3" y2="212.7" stroke="#3c3c3c" stroke-width="3.8"/>
<text x="1742.2" y="221.4" text-anchor="end" font-size="28.5">p.S37P</text>
<text x="1763.2" y="222.3" font-size="25"><tspan font-style="italic">P</tspan>=0.63</text>
<rect x="1933.1" y="245.8" width="20.4" height="54.5" fill="#FC1F10"/>
<line x1="1746.8" y1="273.05" x2="1755.3" y2="273.05" stroke="#3c3c3c" stroke-width="3.8"/>
<text x="1742.2" y="281.75" text-anchor="end" font-size="28.5">p.G34E</text>
<text x="1763.2" y="282.65" font-size="25"><tspan font-style="italic">P</tspan>=0.29</text>
<rect x="1933.1" y="306.15" width="15.4" height="54.5" fill="#2C7019"/>
<line x1="1746.8" y1="333.4" x2="1755.3" y2="333.4" stroke="#3c3c3c" stroke-width="3.8"/>
<text x="1742.2" y="342.1" text-anchor="end" font-size="28.5">p.D32G</text>
<text x="1763.2" y="343" font-size="25"><tspan font-style="italic">P</tspan>=0.69</text>
<rect x="1906.1" y="366.5" width="27" height="54.5" fill="#2C7019"/>
<line x1="1746.8" y1="393.75" x2="1755.3" y2="393.75" stroke="#3c3c3c" stroke-width="3.8"/>
<text x="1742.2" y="402.45" text-anchor="end" font-size="28.5">p.S33P</text>
<text x="1763.2" y="403.35" font-size="25"><tspan font-style="italic">P</tspan>=0.67</text>
<rect x="1896.1" y="426.85" width="37" height="54.5" fill="#FC1F10"/>
<line x1="1746.8" y1="454.1" x2="1755.3" y2="454.1" stroke="#3c3c3c" stroke-width="3.8"/>
<text x="1742.2" y="462.8" text-anchor="end" font-size="28.5">p.S37F</text>
<text x="1763.2" y="463.7" font-size="25"><tspan font-style="italic">P</tspan>=0.16</text>
<rect x="1882.6" y="487.2" width="50.5" height="54.5" fill="#FC1F10"/>
<line x1="1746.8" y1="514.45" x2="1755.3" y2="514.45" stroke="#3c3c3c" stroke-width="3.8"/>
<text x="1742.2" y="523.15" text-anchor="end" font-size="28.5">p.T41I</text>
<text x="1763.2" y="524.05" font-size="25"><tspan font-style="italic">P</tspan>=0.009</text>
<rect x="1879" y="547.55" width="54.1" height="54.5" fill="#FC1F10"/>
<line x1="1746.8" y1="574.8" x2="1755.3" y2="574.8" stroke="#3c3c3c" stroke-width="3.8"/>
<text x="1742.2" y="583.5" text-anchor="end" font-size="28.5">p.S33F</text>
<text x="1763.2" y="584.4" font-size="25"><tspan font-style="italic">P</tspan>=0.03</text>
<rect x="1794.6" y="607.9" width="138.5" height="54.5" fill="#FC1F10"/>
<line x1="1746.8" y1="635.15" x2="1755.3" y2="635.15" stroke="#3c3c3c" stroke-width="3.8"/>
<text x="1742.2" y="643.85" text-anchor="end" font-size="28.5">p.D32N</text>
<text x="1937.5" y="644.75" font-size="25"><tspan font-style="italic">P</tspan>=2.1x10<tspan dy="-10" font-size="25">-7</tspan></text>
<line x1="1757.2" y1="116" x2="1757.2" y2="672.5" stroke="#000000" stroke-width="3.8"/>
<line x1="1755.3" y1="670.6" x2="2108.5" y2="670.6" stroke="#000000" stroke-width="3.8"/>
<line x1="1773" y1="672.5" x2="1773" y2="680.7" stroke="#3c3c3c" stroke-width="3.8"/>
<text x="1773" y="710.3" text-anchor="middle" font-size="33.5">-2</text>
<line x1="1852.6" y1="672.5" x2="1852.6" y2="680.7" stroke="#3c3c3c" stroke-width="3.8"/>
<text x="1852.6" y="710.3" text-anchor="middle" font-size="33.5">-1</text>
<line x1="1932.1" y1="672.5" x2="1932.1" y2="680.7" stroke="#3c3c3c" stroke-width="3.8"/>
<text x="1932.1" y="710.3" text-anchor="middle" font-size="33.5">0</text>
<line x1="2012.5" y1="672.5" x2="2012.5" y2="680.7" stroke="#3c3c3c" stroke-width="3.8"/>
<text x="2012.5" y="710.3" text-anchor="middle" font-size="33.5">1</text>
<line x1="2092.5" y1="672.5" x2="2092.5" y2="680.7" stroke="#3c3c3c" stroke-width="3.8"/>
<text x="2092.5" y="710.3" text-anchor="middle" font-size="33.5">2</text>
<text x="1910" y="64.2" text-anchor="middle" font-size="33.5">TE cohorts</text>
<text x="1936.5" y="743.2" text-anchor="middle" font-size="33.5">Observed/Expected</text>
<text x="1936.5" y="774.3" text-anchor="middle" font-size="33.5">ratio (log2FC)</text>
<text text-anchor="middle" transform="translate(1631 397) rotate(-90)" font-size="33.5">β-catenin AA change (n&gt;9)</text>
<text x="1580" y="20.8" font-weight="bold" font-size="33.5">c</text>
<rect x="2021" y="923.3" width="68.9" height="28.5" fill="#FF30FF"/>
<line x1="1829.95" y1="937.55" x2="1835.95" y2="937.55" stroke="#3c3c3c" stroke-width="3.8"/>
<text x="1824.2" y="946.25" text-anchor="end" font-size="25">p.I35S_ATC&gt;G</text>
<text x="1846.5" y="947.45" font-size="25"><tspan font-style="italic">P</tspan>=3.8x10<tspan dy="-10" font-size="25">-8</tspan></text>
<rect x="2021" y="955.1" width="38.8" height="28.5" fill="#FF30FF"/>
<line x1="1829.95" y1="969.35" x2="1835.95" y2="969.35" stroke="#3c3c3c" stroke-width="3.8"/>
<text x="1824.2" y="978.05" text-anchor="end" font-size="25">p.S37A_TTC&gt;G</text>
<text x="1846.5" y="978.25" font-size="25"><tspan font-style="italic">P</tspan>=0.21</text>
<rect x="2021" y="986.9" width="38.8" height="28.5" fill="#FF30FF"/>
<line x1="1829.95" y1="1001.15" x2="1835.95" y2="1001.15" stroke="#3c3c3c" stroke-width="3.8"/>
<text x="1824.2" y="1009.85" text-anchor="end" font-size="25">p.S33A_TTC&gt;G</text>
<text x="1846.5" y="1010.05" font-size="25"><tspan font-style="italic">P</tspan>=0.21</text>
<rect x="2021" y="1018.7" width="35.4" height="28.5" fill="#2C7019"/>
<line x1="1829.95" y1="1032.95" x2="1835.95" y2="1032.95" stroke="#3c3c3c" stroke-width="3.8"/>
<text x="1824.2" y="1041.65" text-anchor="end" font-size="25">p.S37P_TTC&gt;C</text>
<text x="1846.5" y="1041.85" font-size="25"><tspan font-style="italic">P</tspan>=0.006</text>
<rect x="2021" y="1050.5" width="6.6" height="28.5" fill="#2C7019"/>
<line x1="1829.95" y1="1064.75" x2="1835.95" y2="1064.75" stroke="#3c3c3c" stroke-width="3.8"/>
<text x="1824.2" y="1073.45" text-anchor="end" font-size="25">p.D32G_ATC&gt;C</text>
<text x="1846.5" y="1073.65" font-size="25"><tspan font-style="italic">P</tspan>=0.57</text>
<rect x="2021" y="1082.3" width="4.2" height="28.5" fill="#FC1F10"/>
<line x1="1829.95" y1="1096.55" x2="1835.95" y2="1096.55" stroke="#3c3c3c" stroke-width="3.8"/>
<text x="1824.2" y="1105.25" text-anchor="end" font-size="25">p.G34E_TCC&gt;T</text>
<text x="1846.5" y="1105.45" font-size="25"><tspan font-style="italic">P</tspan>=0.44</text>
<rect x="2019.3" y="1114.1" width="1.7" height="28.5" fill="#1E0BA2"/>
<line x1="1829.95" y1="1128.35" x2="1835.95" y2="1128.35" stroke="#3c3c3c" stroke-width="3.8"/>
<text x="1824.2" y="1137.05" text-anchor="end" font-size="25">p.S33Y_TCT&gt;A</text>
<text x="1846.5" y="1137.25" font-size="25"><tspan font-style="italic">P</tspan>=1</text>
<rect x="2009.7" y="1145.9" width="11.3" height="28.5" fill="#000000"/>
<line x1="1829.95" y1="1160.15" x2="1835.95" y2="1160.15" stroke="#3c3c3c" stroke-width="3.8"/>
<text x="1824.2" y="1168.85" text-anchor="end" font-size="25">p.D32H_TCC&gt;G</text>
<text x="1846.5" y="1169.05" font-size="25"><tspan font-style="italic">P</tspan>=1</text>
<rect x="2006.6" y="1177.7" width="14.4" height="28.5" fill="#FC1F10"/>
<line x1="1829.95" y1="1191.95" x2="1835.95" y2="1191.95" stroke="#3c3c3c" stroke-width="3.8"/>
<text x="1824.2" y="1200.65" text-anchor="end" font-size="25">p.T41I_ACC&gt;T</text>
<text x="1846.5" y="1200.85" font-size="25"><tspan font-style="italic">P</tspan>=0.02</text>
<rect x="2002.7" y="1209.5" width="18.3" height="28.5" fill="#FF30FF"/>
<line x1="1829.95" y1="1223.75" x2="1835.95" y2="1223.75" stroke="#3c3c3c" stroke-width="3.8"/>
<text x="1824.2" y="1232.45" text-anchor="end" font-size="25">p.D32E_ATT&gt;G</text>
<text x="1846.5" y="1232.65" font-size="25"><tspan font-style="italic">P</tspan>=0.71</text>
<rect x="2002.2" y="1241.3" width="18.8" height="28.5" fill="#FC1F10"/>
<line x1="1829.95" y1="1255.55" x2="1835.95" y2="1255.55" stroke="#3c3c3c" stroke-width="3.8"/>
<text x="1824.2" y="1264.25" text-anchor="end" font-size="25">p.S37F_TCT&gt;T</text>
<text x="1846.5" y="1264.45" font-size="25"><tspan font-style="italic">P</tspan>=0.03</text>
<rect x="1999.1" y="1273.1" width="21.9" height="28.5" fill="#1E0BA2"/>
<line x1="1829.95" y1="1287.35" x2="1835.95" y2="1287.35" stroke="#3c3c3c" stroke-width="3.8"/>
<text x="1824.2" y="1296.05" text-anchor="end" font-size="25">p.G34V_TCC&gt;A</text>
<text x="1846.5" y="1296.25" font-size="25"><tspan font-style="italic">P</tspan>=0.48</text>
<rect x="1996.4" y="1304.9" width="24.6" height="28.5" fill="#2C7019"/>
<line x1="1829.95" y1="1319.15" x2="1835.95" y2="1319.15" stroke="#3c3c3c" stroke-width="3.8"/>
<text x="1824.2" y="1327.85" text-anchor="end" font-size="25">p.S33P_TTC&gt;C</text>
<text x="1846.5" y="1328.05" font-size="25"><tspan font-style="italic">P</tspan>=0.18</text>
<rect x="1995" y="1336.7" width="26" height="28.5" fill="#FC1F10"/>
<line x1="1829.95" y1="1350.95" x2="1835.95" y2="1350.95" stroke="#3c3c3c" stroke-width="3.8"/>
<text x="1824.2" y="1359.65" text-anchor="end" font-size="25">p.S33F_TCT&gt;T</text>
<text x="1846.5" y="1359.85" font-size="25"><tspan font-style="italic">P</tspan>=0.002</text>
<rect x="1989.7" y="1368.5" width="31.3" height="28.5" fill="#1E0BA2"/>
<line x1="1829.95" y1="1382.75" x2="1835.95" y2="1382.75" stroke="#3c3c3c" stroke-width="3.8"/>
<text x="1824.2" y="1391.45" text-anchor="end" font-size="25">p.S37Y_TCT&gt;A</text>
<text x="1846.5" y="1391.65" font-size="25"><tspan font-style="italic">P</tspan>=0.41</text>
<rect x="1966.7" y="1400.3" width="54.3" height="28.5" fill="#FC1F10"/>
<line x1="1829.95" y1="1414.55" x2="1835.95" y2="1414.55" stroke="#3c3c3c" stroke-width="3.8"/>
<text x="1824.2" y="1423.25" text-anchor="end" font-size="25">p.D32N_TCC&gt;T</text>
<text x="2023.8" y="1425.85" font-size="25"><tspan font-style="italic">P</tspan>=7.4x10<tspan dy="-10" font-size="25">-10</tspan></text>
<rect x="1960.7" y="1432.1" width="60.3" height="28.5" fill="#FC1F10"/>
<line x1="1829.95" y1="1446.35" x2="1835.95" y2="1446.35" stroke="#3c3c3c" stroke-width="3.8"/>
<text x="1824.2" y="1455.05" text-anchor="end" font-size="25">p.G34R_CCA&gt;T</text>
<text x="2023.8" y="1457.65" font-size="25"><tspan font-style="italic">P</tspan>=0.002</text>
<rect x="1933.5" y="1463.9" width="87.5" height="28.5" fill="#BEBEBE"/>
<line x1="1829.95" y1="1478.15" x2="1835.95" y2="1478.15" stroke="#3c3c3c" stroke-width="3.8"/>
<text x="1824.2" y="1486.85" text-anchor="end" font-size="25">p.D32V_ATC&gt;A</text>
<text x="2023.8" y="1489.45" font-size="25"><tspan font-style="italic">P</tspan>=4.7x10<tspan dy="-10" font-size="25">-9</tspan></text>
<rect x="1901.7" y="1495.7" width="119.3" height="28.5" fill="#2C7019"/>
<line x1="1829.95" y1="1509.95" x2="1835.95" y2="1509.95" stroke="#3c3c3c" stroke-width="3.8"/>
<text x="1824.2" y="1518.65" text-anchor="end" font-size="25">p.T41A_GTG&gt;C</text>
<text x="2023.8" y="1521.25" font-size="25"><tspan font-style="italic">P</tspan>=4.4x10<tspan dy="-10" font-size="25">-7</tspan></text>
<rect x="1888.7" y="1527.5" width="132.3" height="28.5" fill="#BEBEBE"/>
<line x1="1829.95" y1="1541.75" x2="1835.95" y2="1541.75" stroke="#3c3c3c" stroke-width="3.8"/>
<text x="1824.2" y="1550.45" text-anchor="end" font-size="25">p.D32E_ATT&gt;A</text>
<text x="2023.8" y="1553.05" font-size="25"><tspan font-style="italic">P</tspan>=2.0x10<tspan dy="-10" font-size="25">-5</tspan></text>
<rect x="1865.4" y="1559.3" width="155.6" height="28.5" fill="#2C7019"/>
<line x1="1829.95" y1="1573.55" x2="1835.95" y2="1573.55" stroke="#3c3c3c" stroke-width="3.8"/>
<text x="1824.2" y="1582.25" text-anchor="end" font-size="25">p.I35T_ATC&gt;C</text>
<text x="2023.8" y="1584.85" font-size="25"><tspan font-style="italic">P</tspan>=8.7x10<tspan dy="-10" font-size="25">-9</tspan></text>
<rect x="1853.2" y="1591.1" width="167.8" height="28.5" fill="#FC1F10"/>
<line x1="1829.95" y1="1605.35" x2="1835.95" y2="1605.35" stroke="#3c3c3c" stroke-width="3.8"/>
<text x="1824.2" y="1614.05" text-anchor="end" font-size="25">p.S45F_TCC&gt;T</text>
<text x="2023.8" y="1616.65" font-size="25"><tspan font-style="italic">P</tspan>=3.6x10<tspan dy="-10" font-size="25">-21</tspan></text>
<rect x="1849.9" y="1622.9" width="171.1" height="28.5" fill="#BEBEBE"/>
<line x1="1829.95" y1="1637.15" x2="1835.95" y2="1637.15" stroke="#3c3c3c" stroke-width="3.8"/>
<text x="1824.2" y="1645.85" text-anchor="end" font-size="25">p.I35N_ATC&gt;A</text>
<text x="2023.8" y="1648.45" font-size="25"><tspan font-style="italic">P</tspan>=2.5x10<tspan dy="-10" font-size="25">-12</tspan></text>
<line x1="1837.85" y1="918.8" x2="1837.85" y2="1657.66" stroke="#000000" stroke-width="3.8"/>
<line x1="1835.95" y1="1655.76" x2="2101.8" y2="1655.76" stroke="#000000" stroke-width="3.8"/>
<line x1="1841.6" y1="1657.66" x2="1841.6" y2="1663.76" stroke="#3c3c3c" stroke-width="3.8"/>
<text x="1836.8" y="1690.6" text-anchor="middle" font-size="30.5">-6</text>
<line x1="1901.4" y1="1657.66" x2="1901.4" y2="1663.76" stroke="#3c3c3c" stroke-width="3.8"/>
<text x="1896.8" y="1690.6" text-anchor="middle" font-size="30.5">-4</text>
<line x1="1961.1" y1="1657.66" x2="1961.1" y2="1663.76" stroke="#3c3c3c" stroke-width="3.8"/>
<text x="1958.5" y="1690.6" text-anchor="middle" font-size="30.5">-2</text>
<line x1="2020.9" y1="1657.66" x2="2020.9" y2="1663.76" stroke="#3c3c3c" stroke-width="3.8"/>
<text x="2022.5" y="1690.6" text-anchor="middle" font-size="30.5">0</text>
<line x1="2081" y1="1657.66" x2="2081" y2="1663.76" stroke="#3c3c3c" stroke-width="3.8"/>
<text x="2080.2" y="1690.6" text-anchor="middle" font-size="30.5">2</text>
<text x="1957.5" y="886.5" text-anchor="middle" font-size="33.5">All cohorts</text>
<text x="1960.8" y="1724.9" text-anchor="middle" font-size="33.5">Observed/Expected</text>
<text x="1960.8" y="1761" text-anchor="middle" font-size="33.5">(log2FC)</text>
<text text-anchor="middle" transform="translate(1632.6 1280.4) rotate(-90)" font-size="33.2">AA change_trinucleotide context</text>
<text x="1582" y="940.2" font-weight="bold" font-size="33.5">f</text>
</svg>
</body>
</html>
